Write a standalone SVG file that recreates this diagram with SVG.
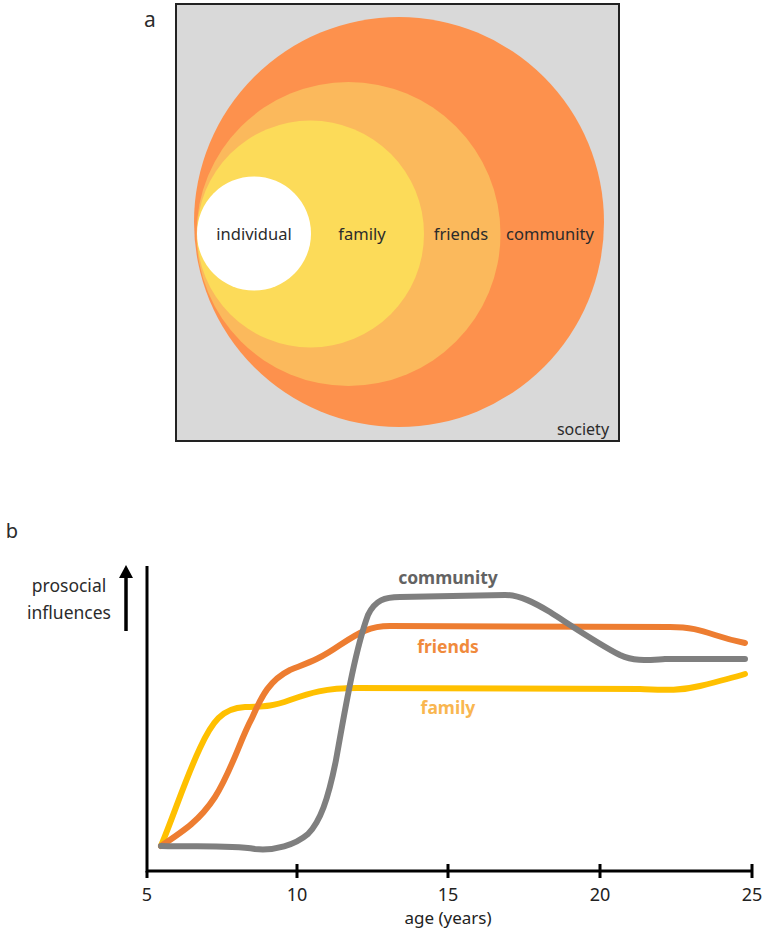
<svg xmlns="http://www.w3.org/2000/svg" width="769" height="932" viewBox="0 0 769 932">
<style>
text{font-family:"Noto Sans","Open Sans",sans-serif;fill:#2b2b2b}
.lbl{font-size:16.5px;text-anchor:middle}
.ax{stroke:#000;stroke-width:3;fill:none;stroke-linecap:butt}
.curve{fill:none;stroke-width:6;stroke-linecap:round;stroke-linejoin:round}
.tick{font-size:18px;text-anchor:middle;fill:#222}
</style>
<rect width="769" height="932" fill="#fff"/>
<!-- panel a -->
<text x="150" y="27" style="font-size:21px" text-anchor="middle">a</text>
<g id="society">
<rect x="176" y="4" width="443" height="437" fill="#d9d9d9" stroke="#222" stroke-width="2"/>
<text x="583" y="435" style="font-size:16px" text-anchor="middle">society</text>
</g>
<g id="community">
<circle cx="399" cy="222" r="205" fill="#fd914d"/>
<text class="lbl" x="550" y="240">community</text>
</g>
<g id="friends">
<circle cx="348.5" cy="234" r="152" fill="#fbb95c"/>
<text class="lbl" x="461" y="240">friends</text>
</g>
<g id="family">
<circle cx="310.5" cy="234" r="113.5" fill="#fcdb59"/>
<text class="lbl" x="362" y="240">family</text>
</g>
<g id="individual">
<circle cx="254" cy="233.5" r="57" fill="#fff"/>
<text class="lbl" x="254" y="240">individual</text>
</g>
<!-- panel b -->
<text x="12" y="538" style="font-size:20px" text-anchor="middle">b</text>
<g id="axes">
<path class="ax" d="M147,566 V871 H752"/>
<path class="ax" d="M297,864 V878 M448,864 V878 M600,864 V878 M752,864 V878 M147,871 V878"/>
<line x1="126" y1="631" x2="126" y2="575" stroke="#000" stroke-width="3.5"/>
<polygon points="126,565 119,578 133,578" fill="#000"/>
<text x="69" y="592" style="font-size:17.5px" text-anchor="middle">prosocial</text>
<text x="69" y="619" style="font-size:17.5px" text-anchor="middle">influences</text>
<text class="tick" x="147" y="901">5</text>
<text class="tick" x="297" y="901">10</text>
<text class="tick" x="448" y="901">15</text>
<text class="tick" x="600" y="901">20</text>
<text class="tick" x="752" y="901">25</text>
<text class="tick" x="448" y="924" style="font-size:17px">age (years)</text>
</g>
<g id="connectors">
<path class="curve" stroke="#ffc000" d="M161,846 C175,812 185,780 200,748 C212,722 222,708 245,707 C262,706 268,708 290,700 C310,693 325,688 357,688 L640,689 C665,690 680,691 700,686 C720,681 735,677 745,674"/>
<path class="curve" stroke="#ed7d31" d="M161,846 C185,830 200,820 215,797 C232,770 240,740 252,718 C262,695 270,680 290,670 C310,662 318,660 340,645 C360,632 370,626 390,626 L670,627 C690,627 700,630 715,635 C730,640 740,642 745,643"/>
<path class="curve" stroke="#7f7f7f" d="M161,846 C200,847 230,845 255,849 C275,851 295,845 308,834 C320,822 328,800 336,760 C345,710 355,650 368,615 C375,600 385,597 400,597 L505,595 C520,595 535,603 550,612 C575,628 600,645 620,655 C635,662 648,660 665,659 L745,659"/>
</g>
<g id="curve-labels">
<text x="448" y="584" style="font-size:17.5px;font-weight:bold;fill:#636363" text-anchor="middle">community</text>
<text x="448" y="653" style="font-size:17.5px;font-weight:bold;fill:#f08a3c" text-anchor="middle">friends</text>
<text x="448" y="714" style="font-size:17.5px;font-weight:bold;fill:#f9b650" text-anchor="middle">family</text>
</g>
</svg>
